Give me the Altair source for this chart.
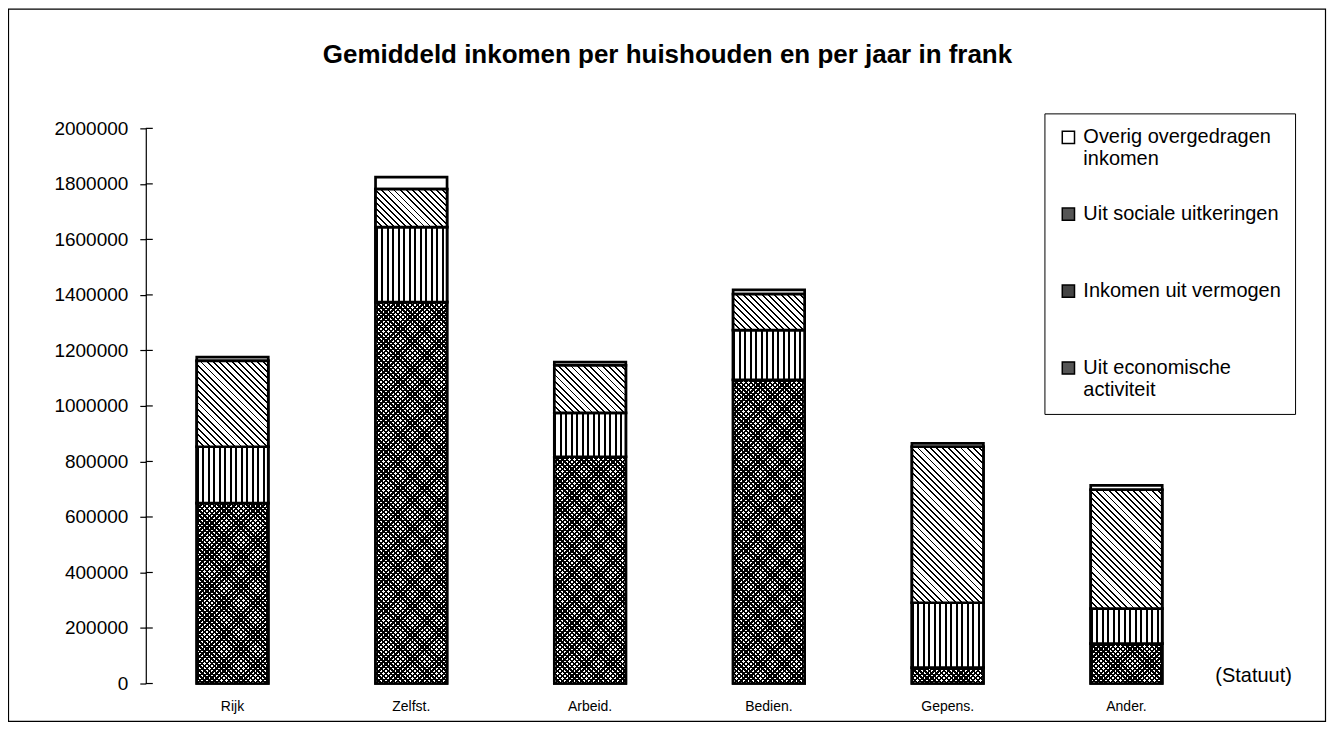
import math
import altair as alt
import pandas as pd

# ---- data ----
categories = ["Rijk", "Zelfst.", "Arbeid.", "Bedien.", "Gepens.", "Ander."]
series = ["Uit economische activiteit", "Inkomen uit vermogen",
          "Uit sociale uitkeringen", "Overig overgedragen inkomen"]
economisch = [650000, 1374000, 817000, 1094000, 57000, 144000]
vermogen = [203000, 270000, 158000, 179000, 234000, 126000]
sociaal = [309000, 137000, 171000, 130000, 562000, 428000]
overig = [14000, 43000, 12000, 15000, 12000, 16000]
y_ticks = [0, 200000, 400000, 600000, 800000, 1000000, 1200000,
           1400000, 1600000, 1800000, 2000000]

rows = []
for i, c in enumerate(categories):
    for j, (s, vals) in enumerate(zip(series, [economisch, vermogen, sociaal, overig])):
        rows.append({"cat": c, "series": s, "value": vals[i], "order": j})
df = pd.DataFrame(rows)

FONT = "Liberation Sans"
W, H = 1069, 556
P_INNER, P_OUTER = 0.6, 0.285
YMAX = 2000000
step = W / (len(categories) - P_INNER + 2 * P_OUTER)
bar_w = step * (1 - P_INNER)
CLEAR = "rgba(0,0,0,0)"
SW = 2.7

x_enc = alt.X("cat:N", sort=categories,
              scale=alt.Scale(paddingInner=P_INNER, paddingOuter=P_OUTER),
              axis=alt.Axis(title="(Statuut)", domain=False, ticks=False, labelAngle=0,
                            labelFontSize=14, labelPadding=16, labelFont=FONT,
                            labelColor="black", titleFont=FONT, titleFontSize=20,
                            titleFontWeight="normal", titleX=1109, titleY=-8,
                            titleAlign="center", titleBaseline="middle", titleColor="black"))
y_scale = alt.Scale(domain=[0, YMAX], nice=False, zero=True)
y_enc = alt.Y("y0:Q", scale=y_scale,
              axis=alt.Axis(title=None, values=y_ticks, format="d", grid=False,
                            labelFontSize=19, labelFont=FONT, labelColor="black",
                            labelPadding=12, tickSize=6, tickColor="black",
                            domainColor="black", domainWidth=1.2, tickWidth=1.2))
y2_enc = alt.Y2("y1:Q")

base = alt.Chart(df).transform_stack(
    stack="value", groupby=["cat"], as_=["y0", "y1"],
    sort=[alt.SortField("order", order="ascending")])

legend_order = list(reversed(series))
fills = {"Uit economische activiteit": "#555555",
         "Inkomen uit vermogen": "#444444",
         "Uit sociale uitkeringen": "#555555",
         "Overig overgedragen inkomen": "#ffffff"}

bars = base.mark_bar(stroke="black", strokeWidth=SW).encode(
    x=x_enc, y=y_enc, y2=y2_enc,
    fill=alt.Fill("series:N",
                  scale=alt.Scale(domain=legend_order, range=[fills[s] for s in legend_order]),
                  legend=alt.Legend(
                      title=None, orient="none", legendX=900, legendY=-15,
                      labelFont=FONT, labelFontSize=20, labelColor="black", labelLimit=400,
                      labelOffset=5, gridAlign="all",
                      symbolType="square", symbolSize=150, symbolStrokeColor="black",
                      symbolStrokeWidth=1.5, rowPadding=35, padding=14,
                      strokeColor="black", fillColor="white",
                      labelExpr="datum.label == 'Overig overgedragen inkomen' ? ['Overig overgedragen', 'inkomen'] : datum.label == 'Uit economische activiteit' ? ['Uit economische', 'activiteit'] : datum.label")))


def stripes(n, frac, on, off):
    stops = []
    for i in range(n):
        a, b, c = i / n, (i + frac) / n, (i + 1) / n
        stops += [{"offset": a, "color": on}, {"offset": b, "color": on},
                  {"offset": b, "color": off}, {"offset": c, "color": off}]
    return stops


def vstripes(n, frac):
    return {"gradient": "linear", "x1": 0, "y1": 0, "x2": 1, "y2": 0,
            "stops": stripes(n, frac, "black", "white")}


def back_diag(w, h, period, frac, off="white"):
    # stripes running from top-left to bottom-right; frac = share of black
    k = (w + h) / (w * w + h * h)
    n = max(1, round((w + h) / (period * math.sqrt(2))))
    return {"gradient": "linear", "x1": 0, "y1": 1, "x2": k * w, "y2": 1 - k * h,
            "stops": stripes(n, frac, "black", off)}


def fwd_diag(w, h, period, frac, off=CLEAR):
    # stripes running from bottom-left to top-right; frac = share of black
    k = (w + h) / (w * w + h * h)
    n = max(1, round((w + h) / (period * math.sqrt(2))))
    return {"gradient": "linear", "x1": 0, "y1": 0, "x2": k * w, "y2": k * h,
            "stops": stripes(n, frac, "black", off)}


def seg(series_name, cat=None):
    cond = alt.datum.series == series_name
    if cat is not None:
        cond = cond & (alt.datum.cat == cat)
    return base.transform_filter(cond)


layers = [bars]

# economische activiteit: cross hatch (two diagonal stripe layers)
for c, v in zip(categories, economisch):
    hpx = v * H / YMAX
    layers.append(seg("Uit economische activiteit", c).mark_bar(
        strokeWidth=0, fill=back_diag(bar_w, hpx, 3.4, 0.5)).encode(x=x_enc, y=y_enc, y2=y2_enc))
    layers.append(seg("Uit economische activiteit", c).mark_bar(
        stroke="black", strokeWidth=SW, fill=fwd_diag(bar_w, hpx, 3.4, 0.5)).encode(
        x=x_enc, y=y_enc, y2=y2_enc))

# inkomen uit vermogen: vertical stripes
layers.append(seg("Inkomen uit vermogen").mark_bar(
    stroke="black", strokeWidth=SW, fill=vstripes(13, 0.36)).encode(x=x_enc, y=y_enc, y2=y2_enc))

# sociale uitkeringen: diagonal stripes
for c, v in zip(categories, sociaal):
    hpx = v * H / YMAX
    layers.append(seg("Uit sociale uitkeringen", c).mark_bar(
        stroke="black", strokeWidth=SW, fill=back_diag(bar_w, hpx, 4.4, 0.3)).encode(
        x=x_enc, y=y_enc, y2=y2_enc))

# tick marks crossing the axis to the inside
tick_df = pd.DataFrame({"t": y_ticks})
layers.append(alt.Chart(tick_df).mark_rule(color="black", strokeWidth=1.2).encode(
    y=alt.Y("t:Q", scale=y_scale), x=alt.value(0), x2=alt.value(7)))

# outer frame around the whole figure
layers.append(alt.Chart(pd.DataFrame({"f": [0]})).mark_rect(
    fillOpacity=0, stroke="black", strokeWidth=1.2).encode(
    x=alt.value(-137.5), x2=alt.value(1181.5), y=alt.value(-119.5), y2=alt.value(594)))

chart = alt.layer(*layers).properties(
    width=W, height=H,
    padding={"left": 138, "top": 120, "right": 114, "bottom": 40},
    autosize=alt.AutoSizeParams(type="none"),
    title=alt.TitleParams("Gemiddeld inkomen per huishouden en per jaar in frank",
                          font=FONT, fontSize=26, fontWeight="bold", color="black",
                          anchor="middle", offset=0, dy=60, dx=-12),
).configure(background="white").configure_view(stroke=None)

chart.save("out.html", embed_options={"renderer": "svg", "actions": False})
